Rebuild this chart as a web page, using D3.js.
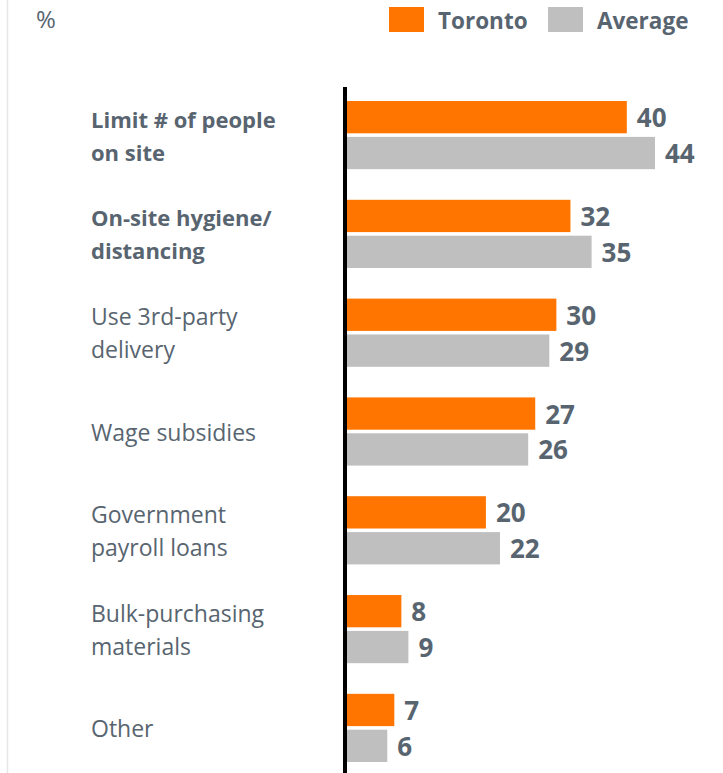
<!DOCTYPE html>
<html>
<head>
<meta charset="utf-8">
<script src="https://cdn.jsdelivr.net/npm/d3@7"></script>
<style>
    body { margin: 0; background: #fff; }
    svg { display: block; font-family: "Open Sans", Lato, sans-serif; }
</style>
</head>
<body>
<div id="chart"></div>
<script>
// Data
const categories = [
    ["Limit # of people", "on site"],
    ["On-site hygiene/", "distancing"],
    ["Use 3rd-party", "delivery"],
    ["Wage subsidies"],
    ["Government", "payroll loans"],
    ["Bulk-purchasing", "materials"],
    ["Other"]
];
const boldCategories = [true, true, false, false, false, false, false];
const seriesNames = ["Toronto", "Average"];
const toronto = [40, 32, 30, 27, 20, 8, 7];
const average = [44, 35, 29, 26, 22, 9, 6];
const unitLabel = "%";

const colors = { Toronto: "#FF7500", Average: "#BFBFBF" };
const textColor = "#586570";

const width = 723, height = 773;

const svg = d3.select("#chart")
    .append("svg")
        .attr("width", width)
        .attr("height", height);

// light frame line on the left
svg.append("line")
    .attr("x1", 7.5).attr("x2", 7.5)
    .attr("y1", 0).attr("y2", height)
    .attr("stroke", "#e4e6e8")
    .attr("stroke-width", 1.5);

const rows = categories.map((c, i) => ({
    key: c.join(" "),
    lines: c,
    bold: boldCategories[i],
    values: [
        { series: "Toronto", value: toronto[i] },
        { series: "Average", value: average[i] }
    ]
}));

// Scales
const x = d3.scaleLinear()
    .domain([0, 44])
    .range([345, 655]);

const y = d3.scaleBand()
    .domain(rows.map(d => d.key))
    .range([101, 762])
    .paddingInner(0.31)
    .paddingOuter(0);

const ySub = d3.scaleBand()
    .domain(seriesNames)
    .range([0, y.bandwidth()])
    .paddingInner(0.1);

// Bars
const groups = svg.append("g")
    .selectAll("g")
    .data(rows)
    .enter()
    .append("g")
        .attr("transform", d => `translate(0,${y(d.key)})`);

groups.selectAll("rect")
    .data(d => d.values)
    .enter()
    .append("rect")
        .attr("x", x(0))
        .attr("y", d => ySub(d.series))
        .attr("width", d => x(d.value) - x(0))
        .attr("height", ySub.bandwidth())
        .attr("fill", d => colors[d.series]);

// Value labels
groups.selectAll("text.value")
    .data(d => d.values)
    .enter()
    .append("text")
        .attr("class", "value")
        .attr("x", d => x(d.value) + 10)
        .attr("y", d => ySub(d.series) + ySub.bandwidth() / 2 + 10)
        .attr("fill", textColor)
        .attr("font-size", 26)
        .attr("font-weight", 700)
        .text(d => d.value);

// Category labels
const labels = svg.append("g")
    .selectAll("text")
    .data(rows)
    .enter()
    .append("text")
        .attr("x", 91)
        .attr("y", d => y(d.key) + y.bandwidth() / 2)
        .attr("fill", textColor)
        .attr("font-size", d => d.bold ? 22 : 23)
        .attr("font-weight", d => d.bold ? 700 : 400);

labels.selectAll("tspan")
    .data(d => d.lines.map((t, i) => ({ t, i, n: d.lines.length })))
    .enter()
    .append("tspan")
        .attr("x", 91)
        .attr("dy", d => d.n === 1 ? 9 : (d.i === 0 ? -7.5 : 33))
        .text(d => d.t);

// Axis line (drawn over bar starts)
const yAxis = d3.axisLeft(y).tickSize(0).tickFormat("");
svg.append("g")
    .attr("transform", `translate(${x(0)},0)`)
    .call(yAxis)
    .call(g => g.select(".domain")
        .attr("d", `M0,87V${height}`)
        .attr("stroke", "#000")
        .attr("stroke-width", 4));

// Unit label
svg.append("text")
    .attr("x", 36)
    .attr("y", 28)
    .attr("fill", textColor)
    .attr("font-size", 24)
    .text(unitLabel);

// Legend
const legendX = [389, 548];
const legend = svg.append("g")
    .selectAll("g")
    .data(seriesNames)
    .enter()
    .append("g")
        .attr("transform", (d, i) => `translate(${legendX[i]},7)`);

legend.append("rect")
    .attr("width", 35)
    .attr("height", 25)
    .attr("fill", d => colors[d]);

legend.append("text")
    .attr("x", 49)
    .attr("y", 21.5)
    .attr("fill", textColor)
    .attr("font-size", 22.5)
    .attr("font-weight", 700)
    .text(d => d);
</script>
</body>
</html>
